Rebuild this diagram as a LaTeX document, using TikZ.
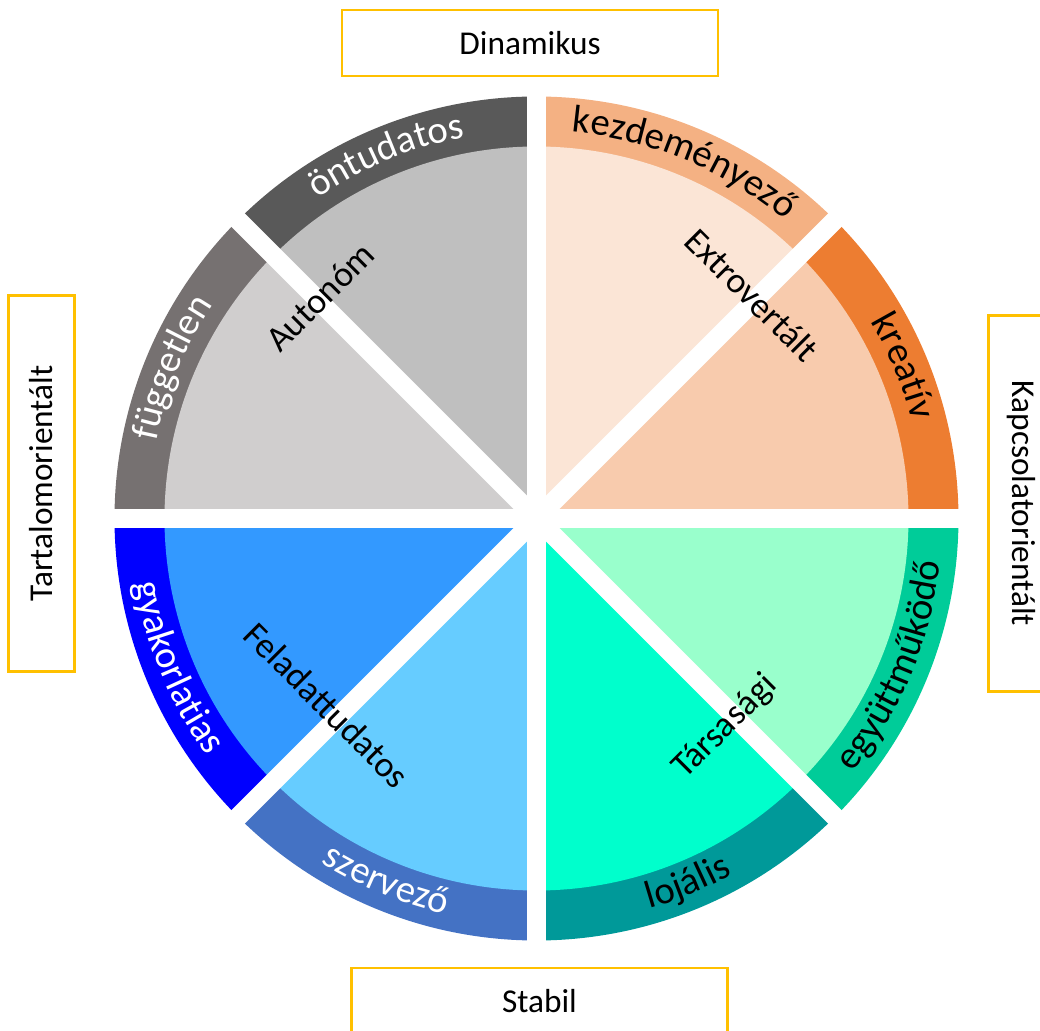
\documentclass[tikz,border=0pt]{standalone}
\usepackage{fontspec}
\setmainfont{Carlito}
\usetikzlibrary{decorations.text}

\definecolor{axisgold}{HTML}{FFC000}
\definecolor{onband}{HTML}{595959}
\definecolor{oninner}{HTML}{BFBFBF}
\definecolor{fuband}{HTML}{767171}
\definecolor{fuinner}{HTML}{D0CECE}
\definecolor{kezband}{HTML}{F4B183}
\definecolor{kezinner}{HTML}{FBE5D6}
\definecolor{krband}{HTML}{ED7D31}
\definecolor{krinner}{HTML}{F8CBAD}
\definecolor{egyband}{HTML}{00CC99}
\definecolor{egyinner}{HTML}{99FFCC}
\definecolor{lojband}{HTML}{009999}
\definecolor{lojinner}{HTML}{00FFCC}
\definecolor{szband}{HTML}{4472C4}
\definecolor{szinner}{HTML}{66CCFF}
\definecolor{gyband}{HTML}{0000FF}
\definecolor{gyinner}{HTML}{3399FF}

\newcommand{\bandfont}{\fontsize{27.5}{33}\selectfont}

\begin{document}
\begin{tikzpicture}[x=0.025cm, y=0.025cm]
                % Define styles
                \tikzstyle{box_axis} = [rectangle, draw=axisgold, line width=0.06cm, minimum width=9.4cm, minimum height=1.65cm, font=\fontsize{23.7}{28}\selectfont]
                \tikzstyle{label_inner} = [font=\fontsize{25.5}{30}\selectfont, text=black]
                \tikzstyle{gap} = [draw=white, line width=0.475cm]
                \tikzstyle{band_text} = [decorate, decoration={text along path, text align=center}]

                \useasboundingbox (-536.5,518.5) rectangle (503.5,-512.5);

                % Sectors
                \fill[krband] (0,0) -- (0:422) arc[start angle=0, end angle=45, radius=422] -- cycle;
                \fill[krinner] (0,0) -- (0:372) arc[start angle=0, end angle=45, radius=372] -- cycle;
                \fill[kezband] (0,0) -- (45:422) arc[start angle=45, end angle=90, radius=422] -- cycle;
                \fill[kezinner] (0,0) -- (45:372) arc[start angle=45, end angle=90, radius=372] -- cycle;
                \fill[onband] (0,0) -- (90:422) arc[start angle=90, end angle=135, radius=422] -- cycle;
                \fill[oninner] (0,0) -- (90:372) arc[start angle=90, end angle=135, radius=372] -- cycle;
                \fill[fuband] (0,0) -- (135:422) arc[start angle=135, end angle=180, radius=422] -- cycle;
                \fill[fuinner] (0,0) -- (135:372) arc[start angle=135, end angle=180, radius=372] -- cycle;
                \fill[gyband] (0,0) -- (180:422) arc[start angle=180, end angle=225, radius=422] -- cycle;
                \fill[gyinner] (0,0) -- (180:372) arc[start angle=180, end angle=225, radius=372] -- cycle;
                \fill[szband] (0,0) -- (225:422) arc[start angle=225, end angle=270, radius=422] -- cycle;
                \fill[szinner] (0,0) -- (225:372) arc[start angle=225, end angle=270, radius=372] -- cycle;
                \fill[lojband] (0,0) -- (270:422) arc[start angle=270, end angle=315, radius=422] -- cycle;
                \fill[lojinner] (0,0) -- (270:372) arc[start angle=270, end angle=315, radius=372] -- cycle;
                \fill[egyband] (0,0) -- (315:422) arc[start angle=315, end angle=360, radius=422] -- cycle;
                \fill[egyinner] (0,0) -- (315:372) arc[start angle=315, end angle=360, radius=372] -- cycle;

                % Gaps
                \path[gap] (180:440) -- (0:440);
                \path[gap] (90:440) -- (270:440);
                \path[gap] (135:440) -- (315:440);
                \path[gap] (45:440) -- (225:440);

                % Band labels
                \path[band_text, decoration={text={|\bandfont|öntudatos}, text color=white}] (135:388) arc[start angle=135, end angle=90, radius=388];
                \path[band_text, decoration={text={|\bandfont|független}, text color=white}] (180:388) arc[start angle=180, end angle=135, radius=388];
                \path[band_text, decoration={text={|\bandfont|kezdeményező}, text color=black}] (90:388) arc[start angle=90, end angle=45, radius=388];
                \path[band_text, decoration={text={|\bandfont|kreatív}, text color=black}] (45:388) arc[start angle=45, end angle=0, radius=388];
                \path[band_text, decoration={text={|\bandfont|gyakorlatias}, text color=white}] (180:406) arc[start angle=180, end angle=225, radius=406];
                \path[band_text, decoration={text={|\bandfont|szervező}, text color=white}] (225:406) arc[start angle=225, end angle=270, radius=406];
                \path[band_text, decoration={text={|\bandfont|lojális}, text color=black}] (270:406) arc[start angle=270, end angle=315, radius=406];
                \path[band_text, decoration={text={|\bandfont|együttműködő}, text color=black}] (315:406) arc[start angle=315, end angle=360, radius=406];

                % Inner labels
                \node [label_inner, rotate=45] (autonom) at (-216.5,221.5) {Autonóm};
                \node [label_inner, rotate=-45] (extrovertalt) at (215.5,223.5) {Extrovertált};
                \node [label_inner, rotate=-45] (feladattudatos) at (-209.5,-186.5) {Feladattudatos};
                \node [label_inner, rotate=45] (tarsasagi) at (188.5,-208.5) {Társasági};

                % Axis boxes
                \node [box_axis] (dinamikus) at (-6.5,475.5) {Dinamikus};
                \node [box_axis] (stabil) at (3,-482.5) {Stabil};
                \node [box_axis, rotate=90] (tartalom) at (-495,35) {Tartalomorientált};
                \node [box_axis, rotate=-90] (kapcsolat) at (485,15) {Kapcsolatorientált};
            \end{tikzpicture}
\end{document}
